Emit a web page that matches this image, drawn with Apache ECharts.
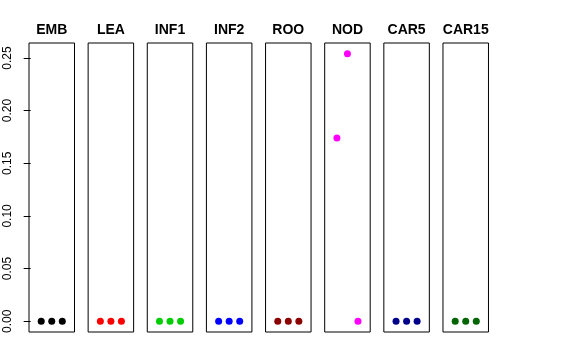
<!DOCTYPE html>
<html>
<head>
<meta charset="utf-8">
<script src="https://cdn.jsdelivr.net/npm/echarts@6/dist/echarts.min.js"></script>
<style>
html,body{margin:0;padding:0;background:#fff;}
#chart{width:576px;height:360px;}
</style>
</head>
<body>
<div id="chart"></div>
<script>
// ---- data ----
const panelNames = ['EMB', 'LEA', 'INF1', 'INF2', 'ROO', 'NOD', 'CAR5', 'CAR15'];
const xPositions = [1, 2, 3];
const EMB = [0, 0, 0];
const LEA = [0, 0, 0];
const INF1 = [0, 0, 0];
const INF2 = [0, 0, 0];
const ROO = [0, 0, 0];
const NOD = [0.174, 0.254, 0];
const CAR5 = [0, 0, 0];
const CAR15 = [0, 0, 0];
const panelValues = [EMB, LEA, INF1, INF2, ROO, NOD, CAR5, CAR15];
const panelColors = ['#000000', '#FF0000', '#00CD00', '#0000FF', '#8B0000', '#FF00FF', '#00008B', '#006400'];
const yTickValues = [0, 0.05, 0.10, 0.15, 0.20, 0.25];
const yTickLabels = ['0.00', '0.05', '0.10', '0.15', '0.20', '0.25'];

// ---- layout ----
const FONT = '"Liberation Sans", Helvetica, Arial, sans-serif';
const gridTop = 43, gridHeight = 289, gridWidth = 45.5, firstLeft = 29, step = 59.14;
const yMin = -0.0102, yMax = 0.2642;
const xMin = -0.16, xMax = 4.16;

const grids = [], xAxes = [], yAxes = [], series = [], graphics = [];
panelNames.forEach((name, i) => {
  const left = firstLeft + step * i;
  grids.push({
    left: left, top: gridTop, width: gridWidth, height: gridHeight,
    show: true, borderColor: '#000', borderWidth: 1, backgroundColor: 'transparent'
  });
  xAxes.push({
    type: 'value', gridIndex: i, min: xMin, max: xMax, show: false
  });
  const isFirst = i === 0;
  yAxes.push({
    type: 'value', gridIndex: i, min: yMin, max: yMax,
    show: isFirst,
    splitLine: { show: false },
    axisLine: { show: false },
    axisTick: {
      show: isFirst, length: 7, inside: false, customValues: yTickValues,
      lineStyle: { color: '#000', width: 1 }
    },
    axisLabel: {
      show: isFirst, rotate: 90, margin: 15, customValues: yTickValues,
      color: '#000', fontFamily: FONT, fontSize: 12,
      formatter: v => {
        const idx = yTickValues.findIndex(t => Math.abs(t - v) < 1e-9);
        return idx >= 0 ? yTickLabels[idx] : '';
      }
    }
  });
  series.push({
    type: 'scatter', xAxisIndex: i, yAxisIndex: i,
    symbol: 'circle', symbolSize: 7,
    itemStyle: { color: panelColors[i], opacity: 1 },
    data: xPositions.map((x, k) => [x, panelValues[i][k]]),
    silent: true
  });
  graphics.push({
    type: 'text', x: left + gridWidth / 2, y: 30, silent: true,
    style: {
      text: name, textAlign: 'center', textVerticalAlign: 'middle',
      font: 'bold 14px ' + FONT, fill: '#000'
    }
  });
});

const chart = echarts.init(document.getElementById('chart'), null, { renderer: 'canvas' });
chart.setOption({
  animation: false,
  backgroundColor: '#fff',
  grid: grids,
  xAxis: xAxes,
  yAxis: yAxes,
  series: series,
  graphic: graphics
});
</script>
</body>
</html>
